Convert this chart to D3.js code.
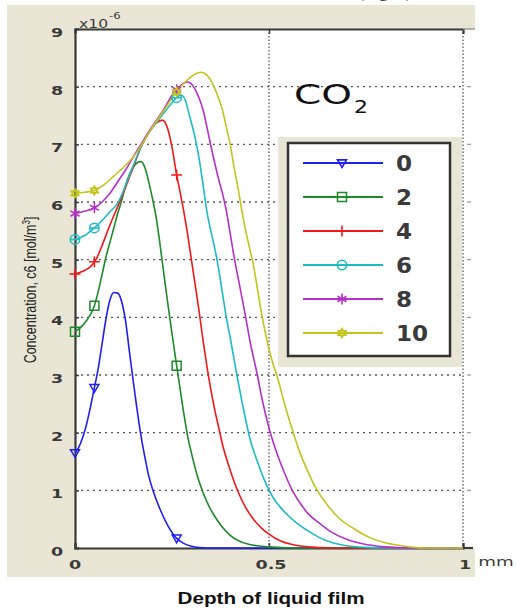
<!DOCTYPE html>
<html><head><meta charset="utf-8">
<script src="https://cdn.jsdelivr.net/npm/d3@7"></script>
<style>body{margin:0;background:#fff}svg{display:block}</style>
</head><body>
<svg id="chart" width="517" height="611"></svg>
<script>
// ---- data ----
const seriesNames = ["0","2","4","6","8","10"];
const seriesColors = ["#1f1fef","#1e8a2a","#f01818","#1cbcc4","#b530c8","#c4c41c"];
const markerTypes = ["triangleDown","square","plus","circle","star","hexagram"];
const markerX = [0, 0.05, 0.262];
const xTicks = [0, 0.5, 1];
const xTickLabels = ["0","0.5","1"];
const yTicks = [0,1,2,3,4,5,6,7,8,9];
const yGrid = [1,2,3,4,5,6,7,8];

const c0 = [[0,1.65],[0.01,1.75],[0.02,1.92],[0.03,2.15],[0.04,2.45],[0.05,2.78],[0.06,3.12],[0.07,3.55],[0.08,3.98],[0.09,4.3],[0.1,4.43],[0.11,4.42],[0.12,4.28],[0.13,3.95],[0.14,3.42],[0.15,2.9],[0.16,2.4],[0.17,1.95],[0.18,1.58],[0.19,1.25],[0.2,1.02],[0.22,0.66],[0.24,0.38],[0.26,0.18],[0.28,0.08],[0.3,0.03],[0.32,0.01],[0.36,0],[1,0]];
const c2 = [[0,3.75],[0.02,3.86],[0.04,4.05],[0.05,4.2],[0.06,4.45],[0.07,4.75],[0.08,5.05],[0.09,5.3],[0.1,5.55],[0.11,5.8],[0.12,6.02],[0.13,6.28],[0.14,6.47],[0.15,6.6],[0.16,6.68],[0.17,6.7],[0.18,6.6],[0.19,6.35],[0.2,6.05],[0.21,5.7],[0.22,5.22],[0.23,4.7],[0.24,4.2],[0.25,3.72],[0.26,3.25],[0.27,2.8],[0.28,2.35],[0.29,1.95],[0.3,1.65],[0.32,1.15],[0.34,0.8],[0.36,0.55],[0.38,0.36],[0.4,0.22],[0.42,0.13],[0.45,0.06],[0.5,0.02],[0.56,0],[1,0]];
const c4 = [[0,4.75],[0.02,4.8],[0.04,4.88],[0.054,5.0],[0.07,5.25],[0.09,5.6],[0.11,5.92],[0.13,6.25],[0.15,6.6],[0.17,6.95],[0.19,7.2],[0.21,7.37],[0.225,7.42],[0.24,7.25],[0.25,6.95],[0.262,6.47],[0.27,6.2],[0.28,5.85],[0.29,5.45],[0.3,5.0],[0.31,4.55],[0.32,4.1],[0.33,3.6],[0.34,3.15],[0.35,2.75],[0.36,2.4],[0.37,2.1],[0.38,1.8],[0.4,1.35],[0.42,0.98],[0.44,0.7],[0.46,0.5],[0.48,0.35],[0.5,0.24],[0.53,0.12],[0.56,0.06],[0.6,0.02],[0.66,0],[1,0]];
const c6 = [[0,5.35],[0.025,5.42],[0.05,5.55],[0.07,5.68],[0.09,5.83],[0.11,5.98],[0.13,6.28],[0.15,6.63],[0.17,6.95],[0.19,7.2],[0.21,7.38],[0.23,7.55],[0.25,7.72],[0.265,7.83],[0.275,7.85],[0.285,7.75],[0.295,7.5],[0.31,7.1],[0.32,6.75],[0.33,6.3],[0.34,5.83],[0.35,5.5],[0.36,5.2],[0.37,4.85],[0.38,4.42],[0.39,4.0],[0.4,3.65],[0.41,3.27],[0.42,2.9],[0.43,2.55],[0.44,2.22],[0.45,1.92],[0.47,1.5],[0.49,1.15],[0.51,0.88],[0.53,0.7],[0.55,0.56],[0.57,0.44],[0.6,0.3],[0.63,0.18],[0.66,0.1],[0.7,0.04],[0.75,0.01],[0.8,0],[1,0]];
const c8 = [[0,5.8],[0.02,5.83],[0.05,5.9],[0.07,6.0],[0.09,6.15],[0.11,6.35],[0.13,6.55],[0.15,6.78],[0.17,7.0],[0.19,7.22],[0.21,7.42],[0.23,7.62],[0.25,7.85],[0.265,7.97],[0.28,8.06],[0.29,8.08],[0.3,8.05],[0.31,7.95],[0.32,7.8],[0.33,7.6],[0.34,7.3],[0.35,6.98],[0.36,6.68],[0.37,6.4],[0.38,6.15],[0.39,5.85],[0.4,5.45],[0.41,5.05],[0.42,4.7],[0.43,4.35],[0.44,4.0],[0.45,3.62],[0.46,3.3],[0.47,3.0],[0.48,2.65],[0.49,2.35],[0.5,2.08],[0.52,1.65],[0.54,1.3],[0.56,1.0],[0.58,0.78],[0.6,0.6],[0.63,0.43],[0.66,0.28],[0.7,0.15],[0.75,0.06],[0.8,0.02],[0.86,0],[1,0]];
const c10 = [[0,6.15],[0.025,6.17],[0.05,6.2],[0.075,6.3],[0.1,6.45],[0.125,6.6],[0.15,6.78],[0.17,6.97],[0.19,7.2],[0.21,7.4],[0.23,7.6],[0.25,7.8],[0.27,7.98],[0.29,8.12],[0.31,8.22],[0.325,8.25],[0.34,8.2],[0.355,8.05],[0.37,7.8],[0.38,7.6],[0.39,7.3],[0.4,7.0],[0.41,6.6],[0.42,6.25],[0.43,5.85],[0.44,5.5],[0.45,5.2],[0.46,4.9],[0.47,4.5],[0.48,4.1],[0.49,3.75],[0.5,3.45],[0.51,3.2],[0.52,3.0],[0.54,2.5],[0.56,2.05],[0.58,1.65],[0.6,1.33],[0.62,1.05],[0.65,0.75],[0.68,0.52],[0.72,0.33],[0.76,0.18],[0.8,0.09],[0.85,0.03],[0.9,0],[1,0]];
const seriesData = [c0,c2,c4,c6,c8,c10];

// ---- layout ----
const svg = d3.select("#chart");
const L=75, R=463, T=29, B=548;
const x = d3.scaleLinear().domain([0,1]).range([L,R]);
const y = d3.scaleLinear().domain([0,9]).range([B,T]);
const beige = "#e9e6d6";
const ink = "#3a3a3a";

function wideText(str, px, py, size, sx, anchor, weight, fam){
  return svg.append("text").attr("transform",`translate(${px},${py}) scale(${sx},1)`)
    .attr("text-anchor",anchor).attr("font-size",size).attr("font-weight",weight||"bold")
    .attr("font-family",fam||"DejaVu Sans").attr("fill",ink).text(str);
}

// caption of the source page, cut off at the top edge as in the reference
svg.append("text").attr("x",385).attr("y",-3).attr("text-anchor","middle")
  .attr("font-family","Liberation Serif").attr("font-size",18).attr("fill","#222").text("(Fig. 5)");

// background panel
svg.append("rect").attr("x",7).attr("y",5).attr("width",468).attr("height",572).attr("fill",beige);
svg.append("rect").attr("x",L).attr("y",T).attr("width",476-L).attr("height",B-T).attr("fill","#fff");

// grid
const grid = svg.append("g");
grid.selectAll("line.h").data(yGrid).join("line")
  .attr("x1",L).attr("x2",R).attr("y1",d=>y(d)).attr("y2",d=>y(d))
  .attr("stroke","#5a5a5a").attr("stroke-width",1.3).attr("stroke-dasharray","2,4");
grid.selectAll("line.v").data(xTicks.slice(1)).join("line")
  .attr("x1",d=>x(d)).attr("x2",d=>x(d)).attr("y1",T).attr("y2",B)
  .attr("stroke","#5a5a5a").attr("stroke-width",1.3).attr("stroke-dasharray","1.5,2");
grid.selectAll("line.rt").data(yGrid).join("line")
  .attr("x1",R+4).attr("x2",R+8).attr("y1",d=>y(d)).attr("y2",d=>y(d))
  .attr("stroke","#999").attr("stroke-width",1.2);

// axes
const axisY = d3.axisLeft(y).tickValues(yTicks).tickSize(-4).tickFormat("");
svg.append("g").attr("transform",`translate(${L},0)`).call(axisY)
  .call(g=>g.select(".domain").attr("stroke",ink).attr("stroke-width",2.2))
  .call(g=>g.selectAll(".tick line").attr("stroke",ink).attr("stroke-width",1.5));
const axisX = d3.axisBottom(x).tickValues(xTicks).tickSize(-5).tickFormat("");
svg.append("g").attr("transform",`translate(0,${B})`).call(axisX)
  .call(g=>g.select(".domain").attr("stroke",ink).attr("stroke-width",2.2))
  .call(g=>g.selectAll(".tick line").attr("stroke",ink).attr("stroke-width",1.5));
svg.append("line").attr("x1",R).attr("x2",473).attr("y1",B).attr("y2",B).attr("stroke",ink).attr("stroke-width",2.2);
const axisTop = d3.axisTop(x).tickValues(xTicks).tickSize(-5).tickFormat("");
svg.append("g").attr("transform",`translate(0,${T})`).call(axisTop)
  .call(g=>g.select(".domain").attr("stroke",ink).attr("stroke-width",2))
  .call(g=>g.selectAll(".tick line").attr("stroke",ink).attr("stroke-width",1.5));
svg.append("line").attr("x1",R).attr("x2",475).attr("y1",T).attr("y2",T).attr("stroke","#9a9888").attr("stroke-width",1.5);

// tick labels
yTicks.forEach(v=>wideText(String(v), 57, y(v)+8, 13, 1.35, "middle"));
xTicks.forEach((v,i)=>wideText(xTickLabels[i], x(v)+(i===0?0:2), 569, 13, 1.35, "middle"));
wideText("mm", 496, 566, 13, 1.4, "middle", "normal");
// exponent
wideText("x10", 79, 28, 12, 1.3, "start", "normal");
wideText("-6", 109, 19, 9, 1.3, "start", "normal");

// axis titles
svg.append("text").attr("x",271).attr("y",604).attr("text-anchor","middle")
  .attr("font-family","Liberation Sans").attr("font-weight","bold").attr("font-size",16)
  .attr("textLength",187).attr("lengthAdjust","spacingAndGlyphs").attr("fill","#111").text("Depth of liquid film");
const yt = svg.append("text").attr("transform","translate(36,290) rotate(-90) scale(1,1.3)")
  .attr("text-anchor","middle").attr("font-family","Liberation Sans").attr("font-size",12.5).attr("fill","#222");
yt.append("tspan").text("Concentration, c6 [mol/m");
yt.append("tspan").attr("font-size",8).attr("dy",-5).text("3");
yt.append("tspan").attr("dy",5).text("]");

// curves
const line = d3.line().x(d=>x(d[0])).y(d=>y(d[1])).curve(d3.curveMonotoneX);
const plotG = svg.append("g");
seriesData.forEach((s,i)=>{
  plotG.append("path").attr("d",line(s)).attr("fill","none")
    .attr("stroke",seriesColors[i]).attr("stroke-width",1.6);
});

// markers
function markerPath(type){
  const r=4.5;
  switch(type){
    case "triangleDown": return `M${-r},${-r*0.7}L${r},${-r*0.7}L0,${r}Z`;
    case "square": return `M${-r},${-r}H${r}V${r}H${-r}Z`;
    case "plus": return `M${-r-1},0H${r+1}M0,${-r-1}V${r+1}`;
    case "circle": return d3.symbol(d3.symbolCircle, 70)() + `M${-r},0H${r}`;
    case "star": return `M0,${-r-1}V${r+1}M${-r},${-r*0.6}L${r},${r*0.6}M${-r},${r*0.6}L${r},${-r*0.6}`;
    case "hexagram": return `M0,${-r}L${r*0.87},${r*0.5}L${-r*0.87},${r*0.5}ZM0,${r}L${r*0.87},${-r*0.5}L${-r*0.87},${-r*0.5}Z`;
  }
}
function interp(s, xv){
  for(let k=0;k<s.length-1;k++){
    if(xv>=s[k][0] && xv<=s[k+1][0]){
      const t=(xv-s[k][0])/(s[k+1][0]-s[k][0]);
      return s[k][1]+t*(s[k+1][1]-s[k][1]);
    }
  }
  return s[s.length-1][1];
}
seriesData.forEach((s,i)=>{
  markerX.forEach(mx=>{
    plotG.append("path").attr("d",markerPath(markerTypes[i]))
      .attr("transform",`translate(${x(mx)},${y(interp(s,mx))})`)
      .attr("fill", markerTypes[i]==="hexagram" ? seriesColors[i] : "none")
      .attr("fill-opacity",0.6)
      .attr("stroke",seriesColors[i]).attr("stroke-width",1.5);
  });
});

// CO2 label
svg.append("text").attr("x",294).attr("y",104).attr("font-family","DejaVu Sans").attr("font-size",26)
  .attr("textLength",58).attr("lengthAdjust","spacingAndGlyphs").attr("fill","#111").text("CO");
svg.append("text").attr("x",354).attr("y",113).attr("font-family","DejaVu Sans").attr("font-size",17)
  .attr("textLength",14).attr("lengthAdjust","spacingAndGlyphs").attr("fill","#111").text("2");

// legend
svg.append("rect").attr("x",278).attr("y",137).attr("width",184).attr("height",230).attr("fill",beige);
svg.append("rect").attr("x",288).attr("y",143).attr("width",162).attr("height",213)
  .attr("fill","#fff").attr("stroke","#333").attr("stroke-width",2.5);
const legRows = d3.scaleLinear().domain([0,5]).range([163,333]);
seriesNames.forEach((n,i)=>{
  const ly = legRows(i);
  svg.append("line").attr("x1",303).attr("x2",383).attr("y1",ly).attr("y2",ly)
    .attr("stroke",seriesColors[i]).attr("stroke-width",1.8);
  svg.append("path").attr("d",markerPath(markerTypes[i])).attr("transform",`translate(342,${ly})`)
    .attr("fill", markerTypes[i]==="hexagram" ? seriesColors[i] : "none").attr("fill-opacity",0.6)
    .attr("stroke",seriesColors[i]).attr("stroke-width",1.6);
  wideText(n, 396, ly+8, 21, 1.1, "start");
});
</script>
</body></html>
